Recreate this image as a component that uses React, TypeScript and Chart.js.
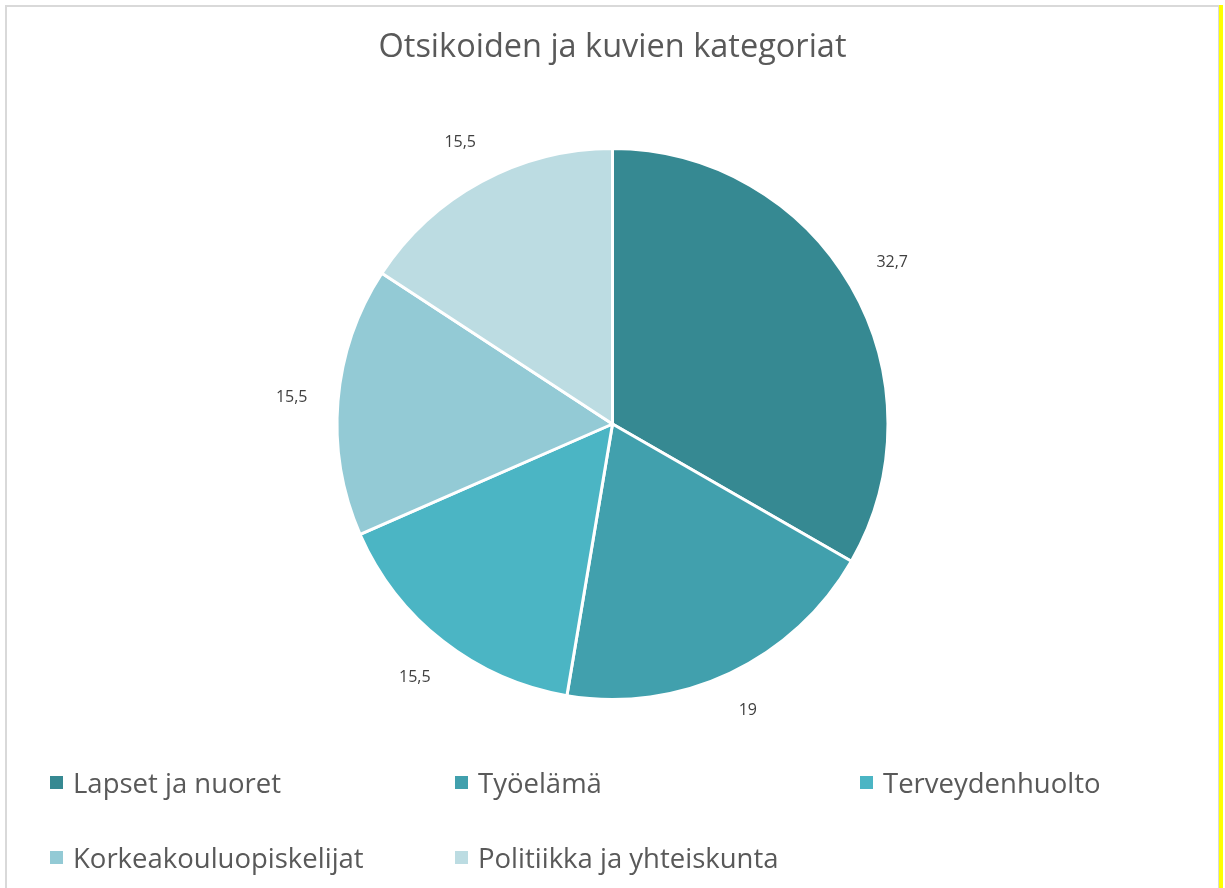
import React, { useEffect, useRef } from "react";
import { Chart, registerables } from "chart.js";

Chart.register(...registerables);

const titleText = "Otsikoiden ja kuvien kategoriat";
const categories = [
  "Lapset ja nuoret",
  "Työelämä",
  "Terveydenhuolto",
  "Korkeakouluopiskelijat",
  "Politiikka ja yhteiskunta",
];
const values = [32.7, 19, 15.5, 15.5, 15.5];
const colors = ["#368992", "#41A0AD", "#4BB5C4", "#93CAD5", "#BCDCE2"];

const FONT = "'Open Sans', Lato, sans-serif";

const fmt = (v: number) => String(v).replace(".", ",");

const outsideLabels = {
  id: "outsideLabels",
  afterDatasetsDraw(chart: any) {
    const ctx = chart.ctx;
    const meta = chart.getDatasetMeta(0);
    ctx.save();
    ctx.font = `16px ${FONT}`;
    ctx.fillStyle = "#404040";
    ctx.textAlign = "center";
    ctx.textBaseline = "middle";
    meta.data.forEach((arc: any, i: number) => {
      const p = arc.getProps(["x", "y", "startAngle", "endAngle", "outerRadius"], true);
      const mid = (p.startAngle + p.endAngle) / 2;
      const txt = fmt(values[i]);
      const w = ctx.measureText(txt).width;
      const h = 16;
      const dx = Math.cos(mid);
      const dy = Math.sin(mid);
      const r = p.outerRadius + 30 + Math.abs(dx) * w / 2 + Math.abs(dy) * h / 2;
      ctx.fillText(txt, p.x + dx * r, p.y + dy * r);
    });
    ctx.restore();
  },
};

export default function App() {
  const ref = useRef<HTMLCanvasElement | null>(null);
  useEffect(() => {
    if (!ref.current) return;
    const chart = new Chart(ref.current, {
      type: "pie",
      data: {
        labels: categories,
        datasets: [
          {
            data: values,
            backgroundColor: colors,
            borderColor: "#FFFFFF",
            borderWidth: 3,
          },
        ],
      },
      options: {
        animation: false,
        responsive: false,
        maintainAspectRatio: false,
        layout: { padding: { top: 0, bottom: 187, left: 0, right: 0 } },
        plugins: {
          legend: { display: false },
          tooltip: { enabled: false },
          title: {
            display: true,
            text: titleText,
            color: "#595959",
            font: { family: FONT, size: 32.5, weight: "normal" as any },
            lineHeight: 1.2,
            padding: { top: 28, bottom: 80 },
          },
        },
      },
      plugins: [outsideLabels],
    });
    return () => chart.destroy();
  }, []);

  const colX = [50, 455, 860];
  const rowY = [782, 857];

  return (
    <div style={{ position: "fixed", left: 0, top: 0, width: 1225, height: 888, background: "#fff", overflow: "hidden" }}>
      <div
        style={{
          position: "absolute",
          left: 5,
          top: 5,
          width: 1211,
          height: 900,
          border: "2px solid #D9D9D9",
        }}
      />
      <div style={{ position: "absolute", left: 1219, top: 5, width: 4, height: 883, background: "#FFFF00" }} />
      <canvas ref={ref} width={1225} height={888} style={{ position: "absolute", left: 0, top: 0 }} />
      {categories.map((c, i) => {
        const col = i % 3;
        const row = Math.floor(i / 3);
        return (
          <div
            key={c}
            style={{
              position: "absolute",
              left: colX[col],
              top: rowY[row] - 20,
              height: 40,
              display: "flex",
              alignItems: "center",
              fontFamily: FONT,
              fontSize: 27.5,
              color: "#595959",
              whiteSpace: "nowrap",
            }}
          >
            <span style={{ display: "inline-block", width: 13, height: 13, background: colors[i], marginRight: 10 }} />
            <span>{c}</span>
          </div>
        );
      })}
    </div>
  );
}
